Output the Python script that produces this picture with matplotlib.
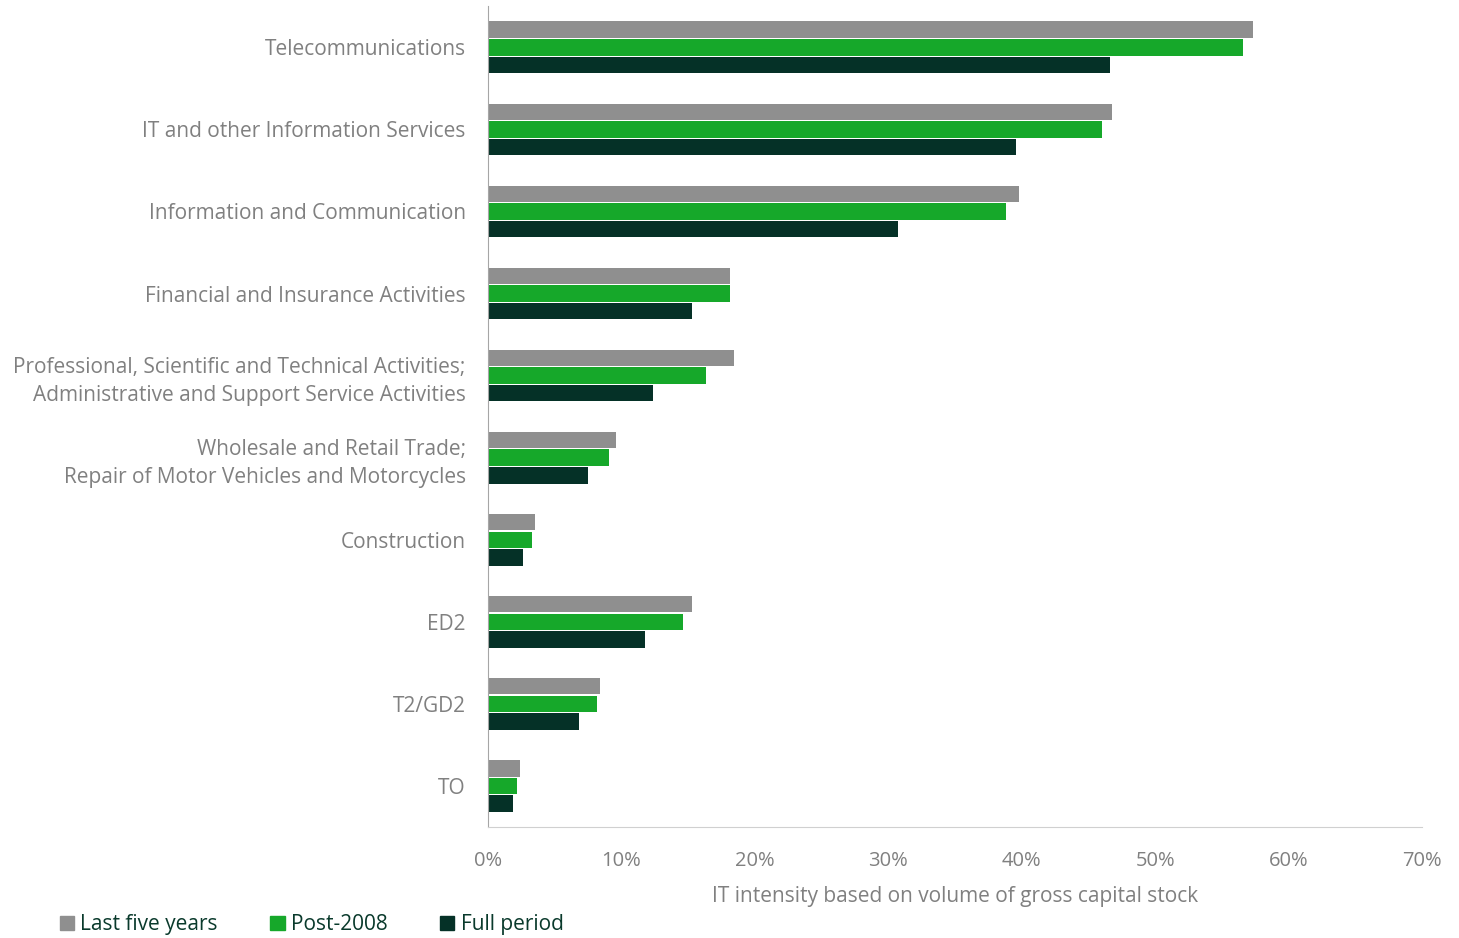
import numpy as np
import matplotlib.pyplot as plt
from matplotlib.patches import Patch

categories = [
    "Telecommunications",
    "IT and other Information Services",
    "Information and Communication",
    "Financial and Insurance Activities",
    "Professional, Scientific and Technical Activities;\nAdministrative and Support Service Activities",
    "Wholesale and Retail Trade;\nRepair of Motor Vehicles and Motorcycles",
    "Construction",
    "ED2",
    "T2/GD2",
    "TO",
]
last_five = [57.3, 46.8, 39.8, 18.1, 18.4, 9.6, 3.5, 15.3, 8.4, 2.4]
post_2008 = [56.6, 46.0, 38.8, 18.1, 16.3, 9.1, 3.3, 14.6, 8.2, 2.2]
full_period = [46.6, 39.6, 30.7, 15.3, 12.4, 7.5, 2.6, 11.8, 6.8, 1.9]
series_names = ["Last five years", "Post-2008", "Full period"]
colors = ["#8f8f8f", "#16a82a", "#053127"]
xticks = [0, 10, 20, 30, 40, 50, 60, 70]

plt.rcParams['font.family'] = ['Open Sans', 'DejaVu Sans']
label_col = "#808080"

fig = plt.figure(figsize=(14.59, 9.38), dpi=100)
ax = fig.add_axes([0.3345, 0.1183, 0.6401, 0.875])

y = np.arange(len(categories))
h = 0.2
offs = [-0.215, 0.0, 0.215]
for vals, off, c in zip([last_five, post_2008, full_period], offs, colors):
    ax.barh(y + off, vals, height=h, color=c)

ax.set_ylim(len(categories) - 0.5, -0.5)
ax.set_xlim(0, 70)
ax.set_yticks(y)
ax.set_yticklabels(categories, fontsize=15, color=label_col, linespacing=1.45)
ax.set_xticks(xticks)
ax.set_xticklabels([f"{t}%" for t in xticks], fontsize=14.5, color=label_col)
ax.tick_params(length=0, axis='y', pad=16)
ax.tick_params(length=0, axis='x', pad=17)
for lbl in ax.get_yticklabels():
    lbl.set_horizontalalignment('right')
for s in ['top', 'right']:
    ax.spines[s].set_visible(False)
ax.spines['left'].set_color('#a6a6a6')
ax.spines['bottom'].set_color('#d0d0d0')
ax.set_xlabel("IT intensity based on volume of gross capital stock", fontsize=15,
              color=label_col, labelpad=11)

handles = [Patch(color=c) for c in colors]
fig.legend(handles, series_names, loc='lower left', bbox_to_anchor=(0.028, -0.017),
           ncol=3, frameon=False, fontsize=15, handlelength=0.7, handleheight=0.7,
           handletextpad=0.3, columnspacing=2.5, labelcolor="#0a3a2c")

fig.savefig("out.png", dpi=100)
